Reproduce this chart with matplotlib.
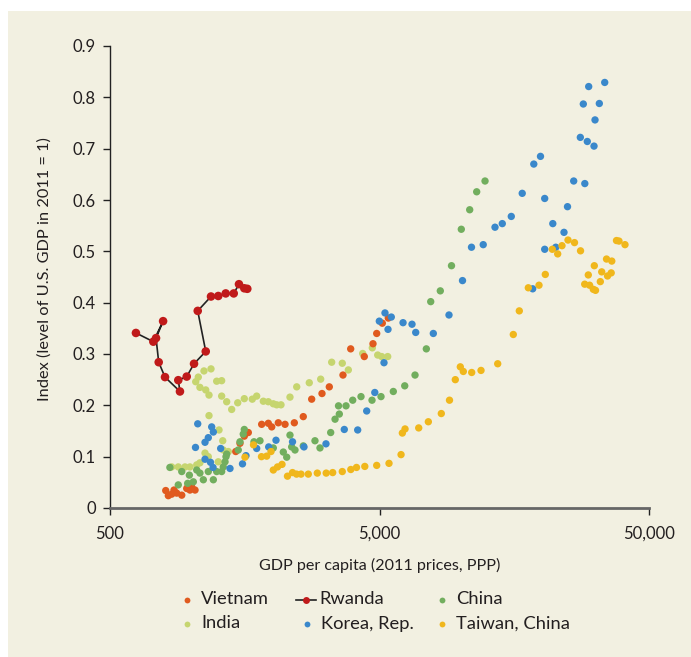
import matplotlib
matplotlib.use("Agg")
import matplotlib.pyplot as plt
from matplotlib.patches import Rectangle
from matplotlib.lines import Line2D

plt.rcParams['font.family'] = ['Lato', 'DejaVu Sans']

# ---- data (GDP per capita, index) ----
vietnam_x = [805, 823, 847, 864, 884, 923, 963, 990, 1034, 1005, 976,
             1464, 1518, 1575, 1630,
             1827, 1934, 1991, 2106, 2231, 2415, 2607, 2801, 3059, 3256, 3660,
             3909, 4391, 4730, 4882, 5121, 5391]
vietnam_y = [0.034, 0.024, 0.027, 0.035, 0.029, 0.025, 0.038, 0.035, 0.035, 0.041, 0.043,
             0.110, 0.126, 0.140, 0.147,
             0.163, 0.165, 0.158, 0.166, 0.163, 0.166, 0.178, 0.212, 0.223, 0.236, 0.259,
             0.310, 0.295, 0.320, 0.340, 0.360, 0.370]

rwanda_x = [624, 724, 787, 741, 758, 800, 909, 896, 963, 1025, 1133, 1058,
            1185, 1261, 1344, 1439, 1505, 1575, 1616]
rwanda_y = [0.341, 0.324, 0.364, 0.331, 0.284, 0.255, 0.227, 0.249, 0.256, 0.281, 0.305, 0.384,
            0.412, 0.413, 0.418, 0.418, 0.436, 0.428, 0.427]

india_x = [1040, 1063, 1116, 1185, 1078, 1133, 1165, 1244, 1298, 1298, 1355, 1414, 1489,
           1575, 1686, 1751, 1853, 1934, 2018, 2077, 2155, 2327, 2465, 2744, 3025, 3323,
           3638, 3831, 4331, 4702, 4924, 5095, 5363,
           1165, 1269, 1310, 847, 896, 949, 990, 1049, 1078, 1126, 1158, 1261, 1316, 1374]
india_y = [0.246, 0.255, 0.267, 0.271, 0.235, 0.230, 0.220, 0.247, 0.248, 0.218, 0.207, 0.192, 0.205,
           0.213, 0.212, 0.218, 0.208, 0.207, 0.203, 0.201, 0.201, 0.216, 0.236, 0.244, 0.251, 0.284,
           0.282, 0.269, 0.301, 0.312, 0.298, 0.295, 0.295,
           0.180, 0.152, 0.131, 0.080, 0.080, 0.080, 0.080, 0.084, 0.088, 0.107, 0.100, 0.090, 0.113, 0.110]

china_x = [834, 896, 923, 985, 971, 1019, 1049, 1078, 1110, 1158, 1209, 1244, 1298, 1316,
           1336, 1347, 1355, 1496, 1518, 1561, 1575, 1711, 1801, 2018, 2198, 2263, 2327,
           2361, 2429, 2607, 2881, 3007, 3295, 3420, 3547, 3523, 3756, 3977, 4269, 4690,
           5065, 5626, 6203, 6773, 7460, 7745, 8406, 9250, 10058, 10806, 11471, 12318]
china_y = [0.079, 0.045, 0.071, 0.064, 0.048, 0.051, 0.074, 0.068, 0.055, 0.071, 0.055, 0.071, 0.071, 0.080,
           0.090, 0.100, 0.105, 0.113, 0.129, 0.144, 0.153, 0.129, 0.131, 0.117, 0.109, 0.099, 0.142,
           0.119, 0.113, 0.121, 0.131, 0.117, 0.147, 0.173, 0.183, 0.199, 0.199, 0.210, 0.217, 0.210,
           0.217, 0.227, 0.238, 0.259, 0.310, 0.402, 0.423, 0.472, 0.543, 0.581, 0.616, 0.637]

korea_x = [1058, 1192, 1209, 1158, 1126, 1038, 1287, 1126, 1180, 1206, 1394, 1551, 1598,
           1751, 1940, 2065, 2378, 2623, 3165, 3701, 4150, 4482, 4803, 5196, 4992, 5240,
           5530, 5377, 6114, 6601, 6813, 7919, 9054, 10162, 10973, 12130, 13414, 14275,
           15416, 16926, 18685, 19785, 20510, 21980, 20510, 22550, 24186, 24922, 26276,
           28893, 18510, 27807, 29514, 31258, 31526, 28525, 32707, 29869, 34250]
korea_y = [0.164, 0.158, 0.148, 0.137, 0.128, 0.118, 0.116, 0.095, 0.089, 0.079, 0.077, 0.086, 0.102,
           0.116, 0.119, 0.132, 0.129, 0.119, 0.125, 0.153, 0.152, 0.189, 0.225, 0.283, 0.364, 0.380,
           0.372, 0.348, 0.361, 0.358, 0.342, 0.340, 0.376, 0.443, 0.508, 0.513, 0.547, 0.554,
           0.568, 0.613, 0.670, 0.685, 0.603, 0.554, 0.504, 0.508, 0.537, 0.587, 0.637,
           0.632, 0.427, 0.722, 0.714, 0.705, 0.756, 0.787, 0.788, 0.821, 0.829]

taiwan_x = [1584, 1704, 1824, 1907, 1979, 2018, 2092, 2174, 2278, 2378, 2461, 2557, 2721,
            2939, 3171, 3352, 3638, 3913, 4108, 4410, 4882, 5423, 6011, 6078, 6219, 6990,
            7589, 8478, 9093, 9555, 9973, 10232, 10992, 11903, 13728, 15683, 16508, 17830,
            19535, 20615, 21887, 22918, 23773, 25029, 26456, 27855, 31338, 29766, 28869,
            30098, 31068, 31661, 32987, 33384, 34783, 36384, 35081, 36198, 37876, 38694, 40728]
taiwan_y = [0.099, 0.123, 0.100, 0.101, 0.110, 0.074, 0.080, 0.085, 0.062, 0.069, 0.066, 0.066, 0.066,
            0.068, 0.068, 0.069, 0.071, 0.075, 0.079, 0.081, 0.083, 0.087, 0.104, 0.146, 0.154, 0.156,
            0.168, 0.184, 0.210, 0.250, 0.275, 0.266, 0.264, 0.268, 0.281, 0.338, 0.384, 0.429,
            0.434, 0.455, 0.504, 0.495, 0.511, 0.522, 0.517, 0.501, 0.472, 0.454, 0.436,
            0.434, 0.426, 0.424, 0.441, 0.460, 0.485, 0.481, 0.452, 0.458, 0.521, 0.520, 0.513]

x_ticks = [500, 5000, 50000]
x_tick_labels = ['500', '5,000', '50,000']
y_ticks = [0, 0.1, 0.2, 0.3, 0.4, 0.5, 0.6, 0.7, 0.8, 0.9]
y_tick_labels = ['0', '0.1', '0.2', '0.3', '0.4', '0.5', '0.6', '0.7', '0.8', '0.9']

# ---- style ----
BG = '#F2F0E1'
C_VIET = '#E05A1E'
C_RWA = '#C01A1A'
C_CHINA = '#72AE5E'
C_INDIA = '#C6D56F'
C_KOREA = '#3A88CB'
C_TAIWAN = '#F0B71C'

W, H = 691, 657
fig = plt.figure(figsize=(W / 100, H / 100), dpi=100, facecolor='white')
fig.patches.append(Rectangle((8 / W, 0), 1 - 8 / W, 1 - 11 / H, transform=fig.transFigure,
                             facecolor=BG, edgecolor='none', zorder=-10))

ax = fig.add_axes([110 / W, (H - 508) / H, 539 / W, 462 / H])
ax.set_facecolor('none')

S = 28
ax.scatter(india_x, india_y, s=S, color=C_INDIA, edgecolors='none', zorder=2)
ax.scatter(vietnam_x, vietnam_y, s=S, color=C_VIET, edgecolors='none', zorder=3)
ax.scatter(china_x, china_y, s=S, color=C_CHINA, edgecolors='none', zorder=4)
ax.scatter(korea_x, korea_y, s=S, color=C_KOREA, edgecolors='none', zorder=5)
ax.scatter(taiwan_x, taiwan_y, s=S, color=C_TAIWAN, edgecolors='none', zorder=6)
ax.plot(rwanda_x, rwanda_y, color='#222222', lw=1.2, zorder=7)
ax.scatter(rwanda_x, rwanda_y, s=38, color=C_RWA, edgecolors='none', zorder=8)

ax.set_xscale('log')
ax.set_xlim(500, 50000)
ax.set_ylim(0, 0.9)
ax.set_xticks(x_ticks)
ax.set_xticklabels(x_tick_labels)
ax.xaxis.set_minor_locator(matplotlib.ticker.NullLocator())
ax.set_yticks(y_ticks)
ax.set_yticklabels(y_tick_labels)

for sp in ['top', 'right']:
    ax.spines[sp].set_visible(False)
ax.spines['left'].set_color('#222222')
ax.spines['left'].set_linewidth(1.0)
ax.spines['bottom'].set_color('#666666')
ax.spines['bottom'].set_linewidth(2.0)

ax.tick_params(axis='y', direction='out', length=5, width=1, color='#222222',
               labelsize=12, pad=5, labelcolor='#231F20')
ax.tick_params(axis='x', direction='out', length=5, width=1, color='#222222',
               labelsize=12, pad=8, labelcolor='#231F20')

ax.set_xlabel('GDP per capita (2011 prices, PPP)', fontsize=11.6, color='#231F20', va='center')
ax.xaxis.set_label_coords(0.5, -(565 - 508) / 462)
ax.set_ylabel('Index (level of U.S. GDP in 2011 = 1)', fontsize=11.8, color='#231F20', va='center')
ax.yaxis.set_label_coords((45 - 110) / 539, (508 - 269) / 462)

# ---- legend ----
legend_items = [
    ('Vietnam', C_VIET, False, 187, 599.5),
    ('Rwanda', C_RWA, True, 306, 599.5),
    ('China', C_CHINA, False, 442, 599.5),
    ('India', C_INDIA, False, 187, 623.5),
    ('Korea, Rep.', C_KOREA, False, 307, 623.5),
    ('Taiwan, China', C_TAIWAN, False, 442, 623.5),
]
for label, col, is_line, mx, my in legend_items:
    fy = 1 - my / H
    if is_line:
        fig.add_artist(Line2D([(mx - 10) / W, (mx + 10) / W], [fy, fy], color='#222222', lw=1.2,
                              transform=fig.transFigure))
        fig.add_artist(Line2D([mx / W], [fy], marker='o', markersize=5, color=col, lw=0,
                              markeredgewidth=0, transform=fig.transFigure))
        tx = mx + 13
    else:
        fig.add_artist(Line2D([mx / W], [fy], marker='o', markersize=4.2, color=col, lw=0,
                              markeredgewidth=0, transform=fig.transFigure))
        tx = mx + 14
    fig.text(tx / W, fy, label, fontsize=13.2, color='#231F20', va='center', ha='left')

fig.savefig('out.png', dpi=100, facecolor='white')
